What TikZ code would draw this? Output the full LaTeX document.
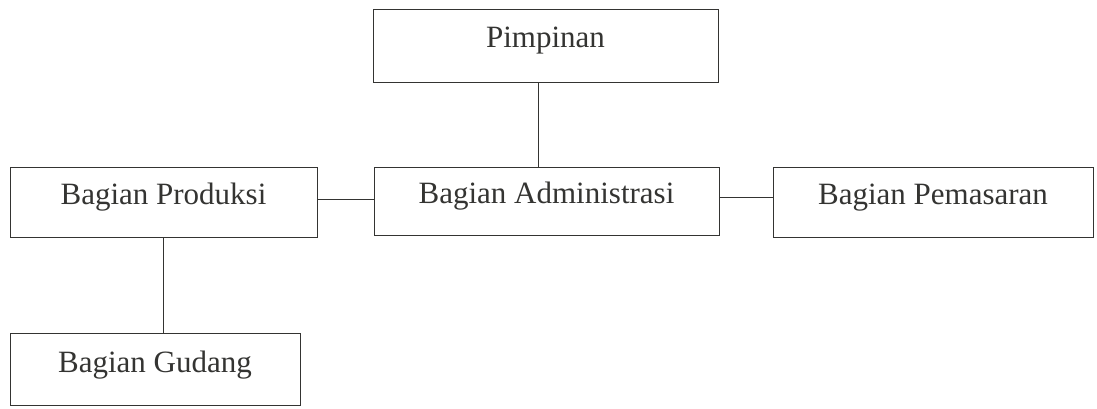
\documentclass[tikz,border=0pt]{standalone}
\usepackage{fontspec}
\setmainfont{Liberation Serif}
\usepackage{xcolor}
\usetikzlibrary{calc}
\definecolor{INK}{RGB}{52,52,50}

\begin{document}
\begin{tikzpicture}[x=1pt,y=-1pt,font=\fontsize{31}{36}\selectfont]
    \tikzset{unit/.style={draw=INK,line width=1pt,text=INK,inner sep=0pt,text depth=16pt}}
    \useasboundingbox (0,0) rectangle (1097,408);
    \node[unit,minimum width=345pt,minimum height=73pt] (pim) at (545.5,45.5) {Pimpinan};
    \node[unit,minimum width=307pt,minimum height=70pt] (prod) at (163.5,202) {Bagian Produksi};
    \node[unit,minimum width=345pt,minimum height=68pt] (adm) at (546.5,201) {Bagian Administrasi};
    \node[unit,minimum width=320pt,minimum height=70pt] (pem) at (933,202) {Bagian Pemasaran};
    \node[unit,minimum width=290pt,minimum height=72pt] (gud) at (155,369.5) {Bagian Gudang};
    \draw[INK,line width=1pt] ([xshift=-7pt]pim.south)--([xshift=-7pt]pim.south |- adm.north);
    \draw[INK,line width=1pt] ([yshift=3pt]prod.east)--([yshift=3pt]prod.east -| adm.west);
    \draw[INK,line width=1pt] ([yshift=4pt]adm.east)--([yshift=4pt]adm.east -| pem.west);
    \draw[INK,line width=1pt] (prod.south)--(prod.south |- gud.north);
  \end{tikzpicture}
\end{document}
